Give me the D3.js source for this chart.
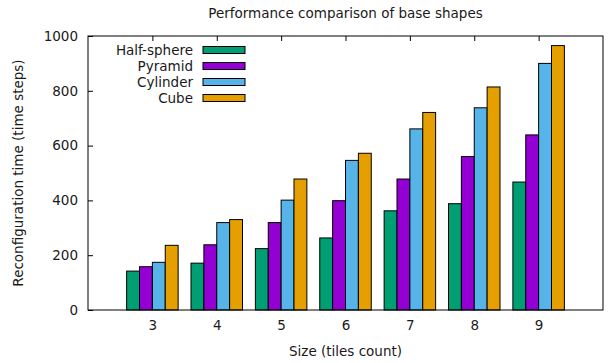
<!DOCTYPE html>
<meta charset="utf-8">
<html>
<head><title>Performance comparison of base shapes</title>
<script src="https://cdn.jsdelivr.net/npm/d3@7"></script>
<style>
    body { margin: 0; background: #fff; }
    text { font-family: "DejaVu Sans", sans-serif; fill: #1a1a1a; }
</style>
</head>
<body>
<script>
// sizes on the x axis
var sizes = ["3", "4", "5", "6", "7", "8", "9"];
var shapes = ["Half-sphere", "Pyramid", "Cylinder", "Cube"];
var colors = ["#009e73", "#9400d3", "#56b4e9", "#e69f00"];
// reconfiguration time per shape, one value per size
var halfSphere = [142, 171, 224, 263, 362, 388, 467];
var pyramid    = [158, 238, 319, 399, 478, 560, 639];
var cylinder   = [174, 319, 401, 546, 661, 738, 900];
var cube       = [236, 330, 478, 572, 721, 814, 965];
var yTicks = [0, 200, 400, 600, 800, 1000];

var series = [halfSphere, pyramid, cylinder, cube];

var W = 612, H = 363;
var fs = "13.5px";
// plot box (window.top is reserved, so use other names)
var plotL = 88, plotR = 603, plotT = 36, plotB = 310;

var svg = d3.select("body").append("svg")
    .attr("width", W).attr("height", H);

// gnuplot style: categories at 0..n-1, range -1..n
var x = d3.scaleLinear().domain([-1, sizes.length]).range([plotL, plotR]);
var y = d3.scaleLinear().domain([0, 1000]).range([plotB, plotT]);
var barW = 0.2;

// bars
series.forEach(function(vals, s) {
    svg.append("g").selectAll("rect")
        .data(vals)
        .enter().append("rect")
        .attr("x", function(d, i) { return x(i - 0.4 + s * barW); })
        .attr("y", function(d) { return y(d); })
        .attr("width", x(barW) - x(0))
        .attr("height", function(d) { return y(0) - y(d); })
        .attr("fill", colors[s])
        .attr("stroke", "#000")
        .attr("stroke-width", 1);
});

// axes
var yAxis = d3.axisLeft(y).tickValues(yTicks).tickFormat(d3.format("d"))
    .tickSizeInner(-5).tickSizeOuter(0).tickPadding(10);
var gy = svg.append("g").attr("transform", "translate(" + plotL + ",0)").call(yAxis);
var xAxis = d3.axisBottom(x).tickValues(d3.range(sizes.length))
    .tickFormat(function(i) { return sizes[i]; }).tickSizeInner(0).tickSizeOuter(0).tickPadding(10);
var gx = svg.append("g").attr("transform", "translate(0," + plotB + ")").call(xAxis);
var xTop = d3.axisTop(x).tickValues(d3.range(sizes.length)).tickFormat("").tickSizeInner(-5).tickSizeOuter(0);
var gt = svg.append("g").attr("transform", "translate(0," + plotT + ")").call(xTop);

[gy, gx, gt].forEach(function(g) {
    g.select(".domain").remove();
    g.selectAll("line").attr("stroke", "#000");
    g.selectAll("text").style("font-size", fs).attr("fill", "#1a1a1a")
        .style("font-family", "'DejaVu Sans', sans-serif");
});

// frame
svg.append("rect")
    .attr("x", plotL).attr("y", plotT)
    .attr("width", plotR - plotL).attr("height", plotB - plotT)
    .attr("fill", "none").attr("stroke", "#000").attr("stroke-width", 1);

// title and labels
svg.append("text").attr("x", (plotL + plotR) / 2).attr("y", 18)
    .attr("text-anchor", "middle").style("font-size", fs)
    .text("Performance comparison of base shapes");
svg.append("text").attr("x", (plotL + plotR) / 2).attr("y", 356)
    .attr("text-anchor", "middle").style("font-size", fs)
    .text("Size (tiles count)");
svg.append("text")
    .attr("transform", "translate(23," + ((plotT + plotB) / 2) + ") rotate(-90)")
    .attr("text-anchor", "middle").style("font-size", fs)
    .text("Reconfiguration time (time steps)");

// legend
var leg = svg.append("g").selectAll("g")
    .data(shapes)
    .enter().append("g")
    .attr("transform", function(d, i) { return "translate(0," + (50 + i * 16) + ")"; });
leg.append("text").attr("x", 193).attr("y", 5)
    .attr("text-anchor", "end").style("font-size", fs)
    .text(function(d) { return d; });
leg.append("rect").attr("x", 203).attr("y", -3.5).attr("width", 42).attr("height", 7)
    .attr("fill", function(d, i) { return colors[i]; })
    .attr("stroke", "#000").attr("stroke-width", 1);
</script>
</body>
</html>
